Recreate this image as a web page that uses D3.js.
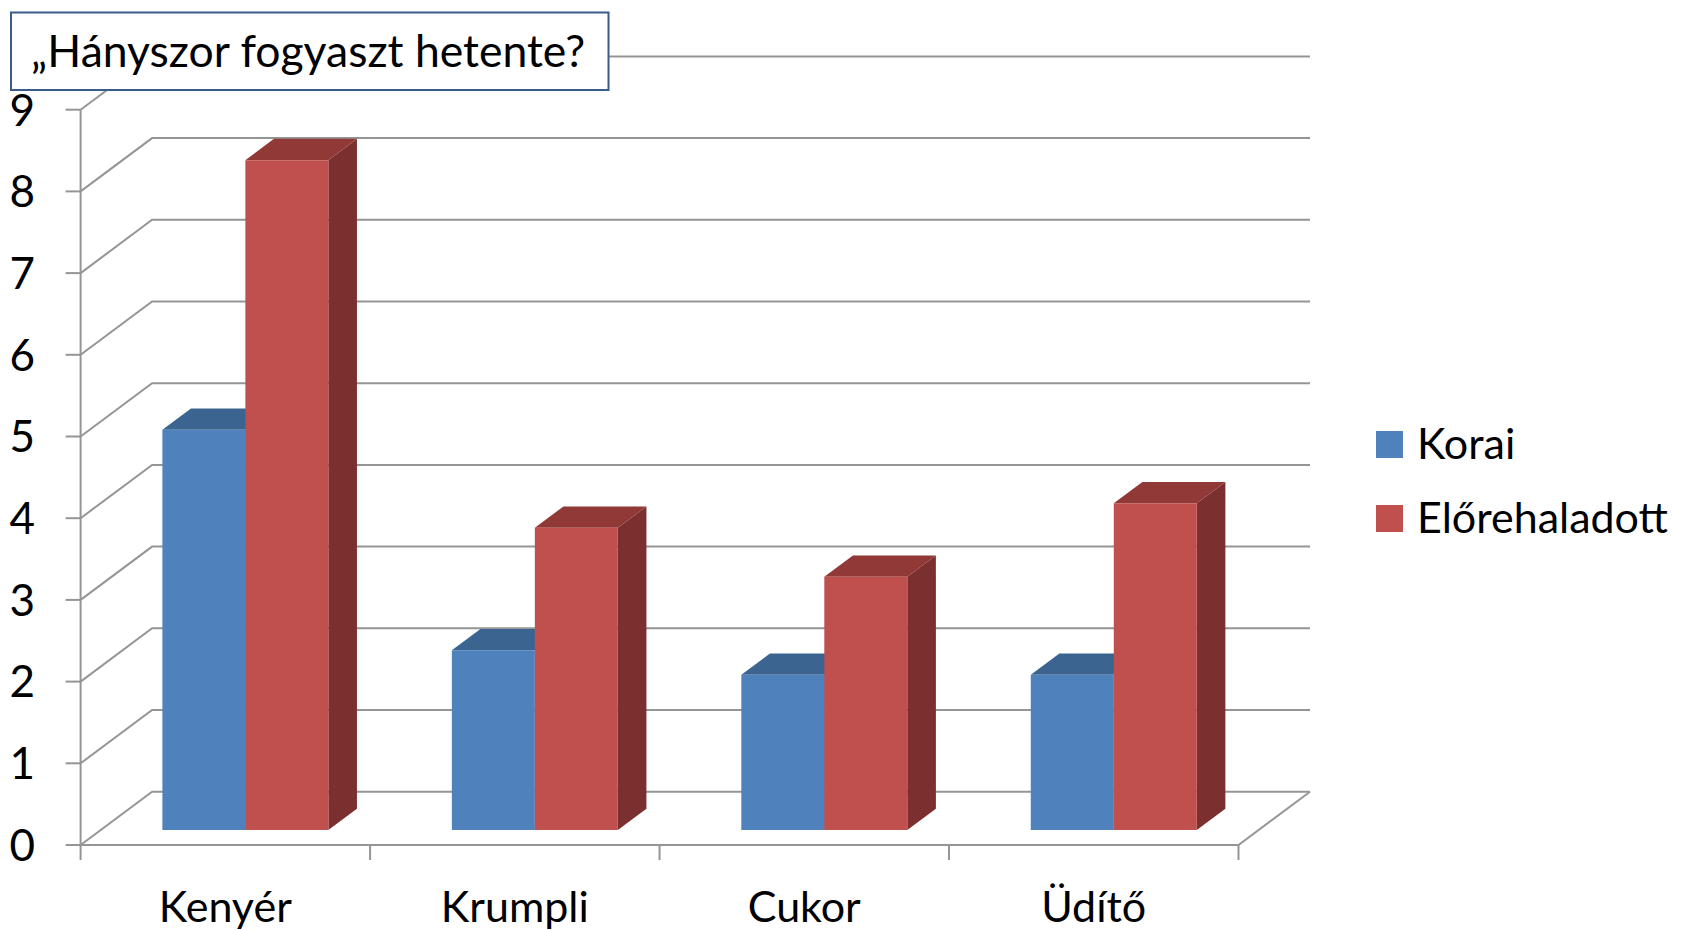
<!DOCTYPE html>
<html>
<head>
<meta charset="utf-8">
<script src="https://cdn.jsdelivr.net/npm/d3@7"></script>
<style>
  html, body { margin: 0; padding: 0; background: #fff; }
  svg text { font-family: Lato, "Open Sans", sans-serif; fill: #000; }
</style>
</head>
<body>
<div id="chart"></div>
<script>
// data
const categories = ["Kenyér", "Krumpli", "Cukor", "Üdítő"];
const seriesNames = ["Korai", "Előrehaladott"];
const korai = [4.9, 2.2, 1.9, 1.9];
const elorehaladott = [8.2, 3.7, 3.1, 4.0];
const yTicks = [0, 1, 2, 3, 4, 5, 6, 7, 8, 9];
const title = "„Hányszor fogyaszt hetente?";

const colors = {
  Korai: { front: "#4f81bd", top: "#3c6491", side: "#34577f" },
  "Előrehaladott": { front: "#c0504d", top: "#903937", side: "#7b2f2e" }
};

const width = 1686, height = 930;
// front plane of the 3d box
const plot = { left: 80.6, right: 1238.5, top: 109.7, bottom: 845 };
// wall depth offset
const depth = { dx: 71.5, dy: -53.3 };
const barDepth0 = 0.28, barDepth1 = 0.68;

const svg = d3.select("#chart").append("svg")
  .attr("width", width)
  .attr("height", height);

const yScale = d3.scaleLinear().domain([0, 9]).range([plot.bottom, plot.top]);
const xScale = d3.scaleBand().domain(categories).range([plot.left, plot.right]);
const xSub = d3.scaleBand().domain(seriesNames).range([0, xScale.bandwidth()]).paddingOuter(0.744);

// projection: x on front plane, value, depth (0 front .. 1 back)
const proj = (x, v, d) => [x + d * depth.dx, yScale(v) + d * depth.dy];

const gridColor = "#959595";
const grid = svg.append("g").attr("fill", "none").attr("stroke", gridColor).attr("stroke-width", 2);

// back wall + side wall gridlines
yTicks.forEach(t => {
  const a = proj(plot.left, t, 0), b = proj(plot.left, t, 1), c = proj(plot.right, t, 1);
  grid.append("path").attr("d", d3.line()([a, b, c]));
});
// floor edges
grid.append("path").attr("d", d3.line()([proj(plot.right, 0, 1), proj(plot.right, 0, 0), proj(plot.left, 0, 0)]));

// y axis
svg.append("line")
  .attr("x1", plot.left).attr("x2", plot.left)
  .attr("y1", yScale(9)).attr("y2", yScale(0))
  .attr("stroke", gridColor).attr("stroke-width", 2);

const yAxis = svg.append("g");
yAxis.selectAll("line").data(yTicks).join("line")
  .attr("x1", plot.left - 15).attr("x2", plot.left)
  .attr("y1", d => yScale(d)).attr("y2", d => yScale(d))
  .attr("stroke", gridColor).attr("stroke-width", 2);
yAxis.selectAll("text").data(yTicks).join("text")
  .attr("x", 35).attr("y", d => yScale(d))
  .attr("dy", "0.36em")
  .attr("text-anchor", "end")
  .attr("font-size", 44)
  .text(d => d);

// x axis ticks
const xEdges = categories.map(c => xScale(c)).concat([plot.right]);
svg.append("g").selectAll("line").data(xEdges).join("line")
  .attr("x1", d => d).attr("x2", d => d)
  .attr("y1", plot.bottom).attr("y2", plot.bottom + 15)
  .attr("stroke", gridColor).attr("stroke-width", 2);

svg.append("g").selectAll("text").data(categories).join("text")
  .attr("x", d => xScale(d) + xScale.bandwidth() / 2)
  .attr("y", 922)
  .attr("text-anchor", "middle")
  .attr("font-size", 43)
  .text(d => d);

// bars
const bars = [];
categories.forEach((c, i) => {
  bars.push({ cat: c, series: "Korai", value: korai[i] });
  bars.push({ cat: c, series: "Előrehaladott", value: elorehaladott[i] });
});

const barG = svg.append("g");
bars.forEach(b => {
  const x0 = xScale(b.cat) + xSub(b.series);
  const x1 = x0 + xSub.bandwidth();
  const col = colors[b.series];
  const poly = pts => pts.map(p => p.join(",")).join(" ");
  const g = barG.append("g");
  // side
  g.append("polygon").attr("fill", col.side).attr("points", poly([
    proj(x1, 0, barDepth0), proj(x1, 0, barDepth1), proj(x1, b.value, barDepth1), proj(x1, b.value, barDepth0)
  ]));
  // top
  g.append("polygon").attr("fill", col.top).attr("points", poly([
    proj(x0, b.value, barDepth0), proj(x1, b.value, barDepth0), proj(x1, b.value, barDepth1), proj(x0, b.value, barDepth1)
  ]));
  // front
  g.append("polygon").attr("fill", col.front).attr("points", poly([
    proj(x0, 0, barDepth0), proj(x1, 0, barDepth0), proj(x1, b.value, barDepth0), proj(x0, b.value, barDepth0)
  ]));
});

// legend
const legend = svg.append("g");
seriesNames.forEach((s, i) => {
  const y = 431 + i * 74;
  legend.append("rect")
    .attr("x", 1376).attr("y", y)
    .attr("width", 27).attr("height", 27)
    .attr("fill", colors[s].front);
  legend.append("text")
    .attr("x", 1417).attr("y", y + 27.5)
    .attr("font-size", 43)
    .text(s);
});

// title box
svg.append("rect")
  .attr("x", 11).attr("y", 12.5)
  .attr("width", 597.5).attr("height", 77.5)
  .attr("fill", "#fff")
  .attr("stroke", "#385d8a").attr("stroke-width", 2);
svg.append("text")
  .attr("x", 31).attr("y", 66.5)
  .attr("font-size", 44.5)
  .text(title);
</script>
</body>
</html>
